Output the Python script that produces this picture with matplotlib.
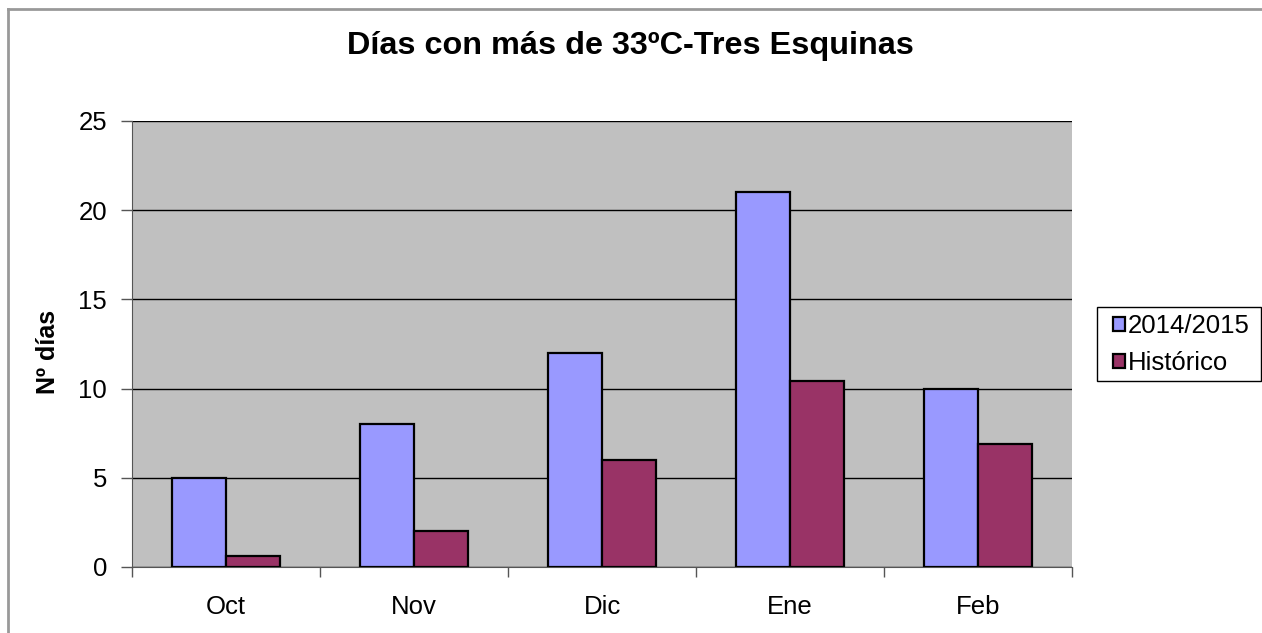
import matplotlib
matplotlib.use("Agg")
import matplotlib.pyplot as plt
import numpy as np
from matplotlib.lines import Line2D
from matplotlib.patches import Rectangle

categories = ["Oct", "Nov", "Dic", "Ene", "Feb"]
serie_2014 = [5, 8, 12, 21, 10]
historico = [0.6, 2, 6, 10.4, 6.9]
series_labels = ["2014/2015", "Histórico"]
yticks = [0, 5, 10, 15, 20, 25]

plt.rcParams['font.family'] = ['Liberation Sans', 'DejaVu Sans']

W, H = 1262, 633
fig = plt.figure(figsize=(W/100, H/100), dpi=100)
ax = fig.add_axes([132/W, 1 - 567/H, (1072-132)/W, (567-121)/H])
ax.set_facecolor("#C0C0C0")

x = np.arange(len(categories))
w = 0.285
b1 = ax.bar(x - w/2, serie_2014, w, color="#9999FF", edgecolor="black", linewidth=1.6, label=series_labels[0], zorder=3)
b2 = ax.bar(x + w/2, historico, w, color="#993366", edgecolor="black", linewidth=1.6, label=series_labels[1], zorder=3)

ax.set_xlim(-0.5, len(categories) - 0.5)
ax.set_ylim(0, 25)
ax.set_yticks(yticks)
ax.yaxis.grid(True, color="black", linewidth=1, zorder=1)
ax.set_axisbelow(True)

ax.set_xticks(x)
ax.set_xticklabels(categories, fontsize=18.5)
ax.tick_params(axis='x', length=0, pad=20)
ax.set_xticks(np.arange(-0.5, len(categories)), minor=True)
ax.tick_params(axis='x', which='minor', length=7, color='#555555', width=1)
ax.tick_params(axis='y', labelsize=18.5, length=8, color='#555555', width=1, pad=10)

for s in ['top', 'right']:
    ax.spines[s].set_visible(False)
ax.spines['left'].set_color('#555555')
ax.spines['bottom'].set_color('#555555')

ax.set_ylabel("Nº días", fontsize=18, fontweight='bold', labelpad=13)
ax.yaxis.label.set_y(0.482)

fig.text(630/W, 1 - 46/H, "Días con más de 33ºC-Tres Esquinas", ha='center', va='center',
         fontsize=23.3, fontweight='bold')

# legend frame
fig.add_artist(Rectangle((1097/W, 1 - 381/H), (1261-1097)/W, (381-307)/H,
                         transform=fig.transFigure, facecolor='white',
                         edgecolor='black', linewidth=1, zorder=1))
leg = fig.legend(handles=[b1, b2], labels=series_labels, loc='upper left',
                 bbox_to_anchor=(1113/W, 1 - 314/H), fontsize=18.5,
                 frameon=False,
                 handlelength=0.45, handleheight=0.45, handletextpad=0.12,
                 borderpad=0, labelspacing=0.5, borderaxespad=0)
leg.set_zorder(2)

# figure frame (top and left edges visible)
fig.add_artist(Line2D([8/W, 1], [1 - 9/H, 1 - 9/H], color='#999999', linewidth=2, transform=fig.transFigure))
fig.add_artist(Line2D([8/W, 8/W], [0, 1 - 9/H], color='#999999', linewidth=2, transform=fig.transFigure))

fig.savefig("out.png", dpi=100)
